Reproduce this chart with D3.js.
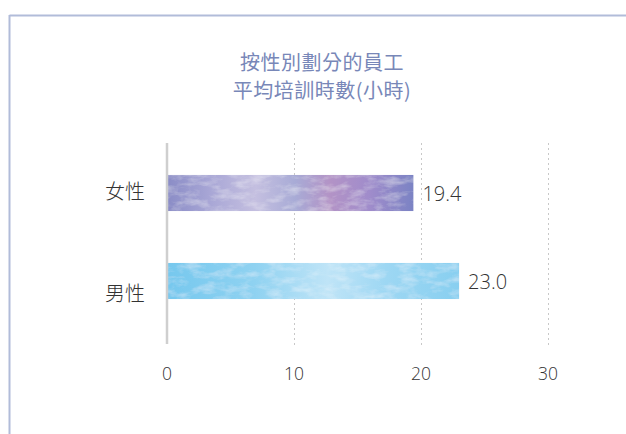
<!DOCTYPE html>
<html><head><meta charset="utf-8">
<script src="https://cdn.jsdelivr.net/npm/d3@7"></script>
<style>
body{margin:0;background:#fff;}
svg{display:block;}
</style></head>
<body>
<script>
const categories = ["女性", "男性"];
const values = [19.4, 23.0];
const valueLabels = ["19.4", "23.0"];
const ticks = [0, 10, 20, 30];
const titleLines = ["按性別劃分的員工", "平均培訓時數(小時)"];

const W = 626, H = 434;
const svg = d3.select("body").append("svg").attr("width", W).attr("height", H);
const defs = svg.append("defs");

// watercolor gradients
const g1 = defs.append("linearGradient").attr("id","gF").attr("x1","0").attr("x2","1").attr("y1","0").attr("y2","0");
[[0,"#8a8cc6"],[0.18,"#a9a7d6"],[0.36,"#c4bfe0"],[0.52,"#a8abd6"],[0.66,"#b393c6"],[0.82,"#a08ccb"],[1,"#7b83c4"]]
  .forEach(([o,c])=>g1.append("stop").attr("offset",o).attr("stop-color",c));
const g2 = defs.append("linearGradient").attr("id","gM").attr("x1","0").attr("x2","1").attr("y1","0").attr("y2","0");
[[0,"#76c8ee"],[0.3,"#8fd2f1"],[0.55,"#bfe4f7"],[0.75,"#9dd7f3"],[1,"#88cff0"]]
  .forEach(([o,c])=>g2.append("stop").attr("offset",o).attr("stop-color",c));

const filt = defs.append("filter").attr("id","wc").attr("x","0").attr("y","0").attr("width","1").attr("height","1");
filt.append("feTurbulence").attr("type","fractalNoise").attr("baseFrequency","0.06 0.14").attr("numOctaves",4).attr("seed",7).attr("result","n");
filt.append("feColorMatrix").attr("in","n").attr("type","matrix")
  .attr("values","0 0 0 0 1  0 0 0 0 1  0 0 0 0 1  0 0 0 0.7 -0.3").attr("result","w");
filt.append("feComposite").attr("in","w").attr("in2","SourceGraphic").attr("operator","in").attr("result","wm");
filt.append("feMerge").call(m=>{m.append("feMergeNode").attr("in","SourceGraphic");m.append("feMergeNode").attr("in","wm");});

// frame
svg.append("line").attr("x1",9.5).attr("x2",W).attr("y1",15.5).attr("y2",15.5).attr("stroke","#b1bcd9").attr("stroke-width",2);
svg.append("line").attr("x1",9.5).attr("x2",9.5).attr("y1",15).attr("y2",H).attr("stroke","#b1bcd9").attr("stroke-width",2);

// title
svg.append("g").selectAll("text").data(titleLines).join("text")
  .attr("x",322).attr("y",(d,i)=>70+i*28).attr("text-anchor","middle")
  .attr("font-family","'Noto Sans CJK TC','Noto Sans CJK SC',sans-serif").attr("font-size",20).attr("font-weight",400)
  .attr("letter-spacing",0.5)
  .attr("fill","#7887b8").text(d=>d);

const x = d3.scaleLinear().domain([0,30]).range([167,548]);
const y = d3.scaleBand().domain(categories).range([149,325]).paddingInner(0.59).paddingOuter(0.295);
const yLabel = d3.scalePoint().domain(categories).range([192,294]);

// grid
svg.append("g").selectAll("line").data(ticks.slice(1)).join("line")
  .attr("x1",d=>x(d)+0.5).attr("x2",d=>x(d)+0.5).attr("y1",143).attr("y2",345)
  .attr("stroke","#c8c8c8").attr("stroke-width",1).attr("stroke-dasharray","2,3");

// bars
const fills = ["url(#gF)","url(#gM)"];
svg.append("g").selectAll("rect").data(values).join("rect")
  .attr("x",x(0)).attr("y",(d,i)=>y(categories[i])).attr("width",d=>x(d)-x(0))
  .attr("height",y.bandwidth()).attr("fill",(d,i)=>fills[i]).attr("filter","url(#wc)");

// axis line
svg.append("line").attr("x1",x(0)).attr("x2",x(0)).attr("y1",143).attr("y2",344)
  .attr("stroke","#cfcfcf").attr("stroke-width",2.5);

// value labels
svg.append("g").selectAll("text").data(values).join("text")
  .attr("x",d=>x(d)+9).attr("y",(d,i)=>y(categories[i])+y.bandwidth()/2+7.5)
  .attr("font-family","'Open Sans',sans-serif").attr("font-weight",300).attr("font-size",20)
  .attr("fill","#333").text((d,i)=>valueLabels[i]);

// category labels
svg.append("g").selectAll("text").data(categories).join("text")
  .attr("x",145).attr("y",d=>yLabel(d)+7).attr("text-anchor","end")
  .attr("font-family","'Noto Sans CJK TC',sans-serif").attr("font-weight",300).attr("font-size",20)
  .attr("fill","#333").text(d=>d);

// tick labels
svg.append("g").selectAll("text").data(ticks).join("text")
  .attr("x",d=>x(d)).attr("y",380).attr("text-anchor","middle")
  .attr("font-family","'Open Sans',sans-serif").attr("font-weight",300).attr("font-size",17.5)
  .attr("fill","#333").text(d=>d);
</script>
</body></html>
